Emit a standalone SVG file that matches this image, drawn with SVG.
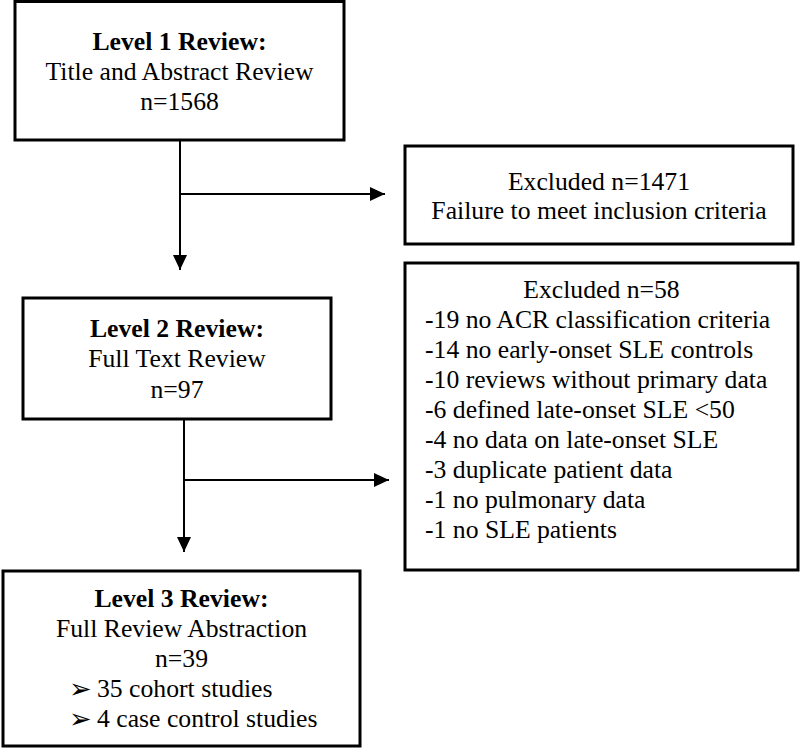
<svg xmlns="http://www.w3.org/2000/svg" width="800" height="748" viewBox="0 0 800 748">
<defs>
<marker id="ah" viewBox="0 0 15 14" refX="15" refY="7" markerWidth="15" markerHeight="14" markerUnits="userSpaceOnUse" orient="auto">
<path d="M0,0 L15,7 L0,14 Z" fill="#000"/>
</marker>
<style>
.box{fill:#fff;stroke:#000;stroke-width:3}
.t{font-family:"Liberation Serif","Times New Roman",serif;font-size:25.7px;fill:#000}
.c{text-anchor:middle}
.b{font-weight:bold}
.con{fill:none;stroke:#000;stroke-width:2}
.sym{font-family:"DejaVu Sans",sans-serif;font-size:27px;fill:#000}
</style>
</defs>
<rect width="800" height="748" fill="#fff"/>
<g id="connectors">
<path class="con" d="M180,140 V270" marker-end="url(#ah)"/>
<path class="con" d="M180,194 H385" marker-end="url(#ah)"/>
<path class="con" d="M184,419 V552" marker-end="url(#ah)"/>
<path class="con" d="M184,480 H389" marker-end="url(#ah)"/>
</g>
<g id="level1">
<rect class="box" x="15" y="1.5" width="329" height="138.5"/>
<text class="t c b" x="179.5" y="50">Level 1 Review:</text>
<text class="t c" x="179.5" y="80">Title and Abstract Review</text>
<text class="t c" x="179.5" y="110">n=1568</text>
</g>
<g id="excluded1">
<rect class="box" x="405" y="146" width="388" height="98"/>
<text class="t c" x="599" y="190">Excluded n=1471</text>
<text class="t c" x="599" y="219">Failure to meet inclusion criteria</text>
</g>
<g id="level2">
<rect class="box" x="23" y="298" width="308" height="121"/>
<text class="t c b" x="177" y="337">Level 2 Review:</text>
<text class="t c" x="177" y="367">Full Text Review</text>
<text class="t c" x="177" y="398">n=97</text>
</g>
<g id="excluded2">
<rect class="box" x="405" y="263" width="393" height="307"/>
<text class="t c" x="601.5" y="298">Excluded n=58</text>
<text class="t" x="425" y="328">-19 no ACR classification criteria</text>
<text class="t" x="425" y="358">-14 no early-onset SLE controls</text>
<text class="t" x="425" y="388">-10 reviews without primary data</text>
<text class="t" x="425" y="418">-6 defined late-onset SLE &lt;50</text>
<text class="t" x="425" y="448">-4 no data on late-onset SLE</text>
<text class="t" x="425" y="478">-3 duplicate patient data</text>
<text class="t" x="425" y="508">-1 no pulmonary data</text>
<text class="t" x="425" y="538">-1 no SLE patients</text>
</g>
<g id="level3">
<rect class="box" x="3" y="571" width="357" height="175"/>
<text class="t c b" x="181.5" y="607">Level 3 Review:</text>
<text class="t c" x="181.5" y="637">Full Review Abstraction</text>
<text class="t c" x="181.5" y="667">n=39</text>
<text class="sym" x="69" y="698">➢</text>
<text class="t" x="97" y="697">35 cohort studies</text>
<text class="sym" x="69" y="728">➢</text>
<text class="t" x="97" y="727">4 case control studies</text>
</g>
</svg>
